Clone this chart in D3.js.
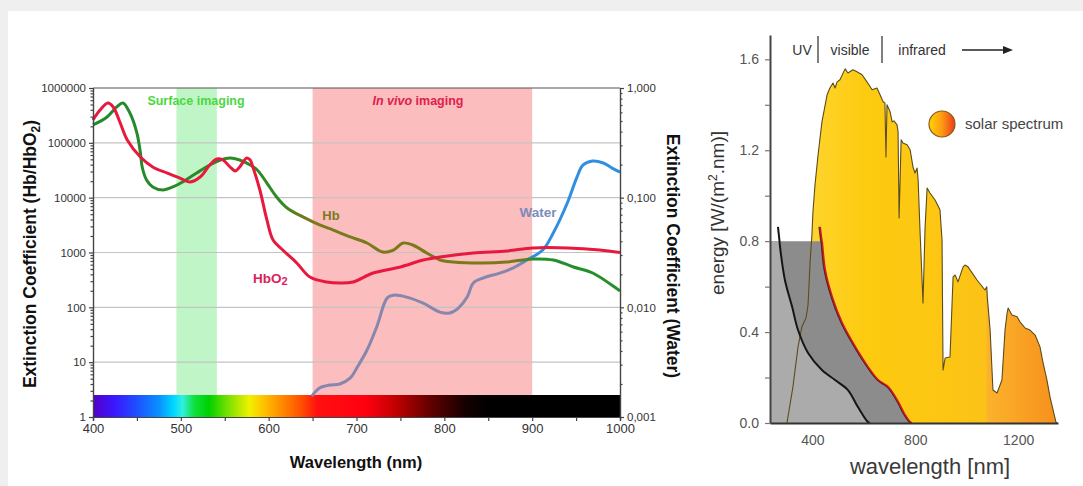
<!DOCTYPE html>
<html>
<head>
<meta charset="utf-8">
<script src="https://cdn.jsdelivr.net/npm/d3@7"></script>
<style>
  body { margin: 0; background: #f0f0f0; }
  svg { display: block; font-family: "Liberation Sans", Arial, sans-serif; }
</style>
</head>
<body>
<div id="container"></div>
<script>
/* CONSTANTS AND GLOBALS */
const width = 1083;
const height = 486;

/* DATA - extinction chart */
const hbWavelength = [400, 416, 427, 434, 442, 450, 454, 456, 461, 468, 480, 491, 502, 518, 533, 545, 556, 567, 579, 587, 598, 609, 621, 639, 658, 673, 693, 712, 730, 742, 753, 764, 780, 795, 810, 844, 871, 901, 924, 947, 969, 997, 1000];
const hbValues = [212000, 296000, 451000, 533000, 350000, 151000, 65300, 36300, 21000, 15700, 13800, 15700, 19300, 28200, 39400, 48600, 53000, 48600, 39400, 32000, 18500, 10300, 6490, 4450, 3180, 2580, 1920, 1490, 1020, 1110, 1490, 1370, 980, 730, 671, 644, 671, 762, 730, 545, 423, 215, 199];

const hbo2Wavelength = [400, 408, 417, 423, 431, 439, 454, 468, 484, 499, 510, 522, 533, 541, 548, 556, 562, 567, 575, 579, 582, 590, 598, 605, 616, 632, 647, 666, 681, 696, 719, 750, 776, 795, 833, 871, 901, 940, 977, 1000];
const hbo2Values = [261000, 397000, 533000, 451000, 230000, 113000, 55200, 36300, 28200, 22800, 19300, 23800, 39400, 50700, 48600, 36300, 30700, 36300, 53000, 48600, 36300, 13800, 3920, 1690, 1110, 644, 357, 290, 278, 290, 423, 545, 730, 828, 980, 1066, 1210, 1210, 1110, 1000];

const waterWavelength = [649, 658, 670, 681, 693, 701, 712, 723, 735, 742, 757, 776, 795, 806, 816, 826, 833, 844, 863, 878, 894, 912, 924, 940, 951, 958, 969, 981, 991, 1000];
const waterValues = [0.00155, 0.00184, 0.00196, 0.00200, 0.00227, 0.00286, 0.00408, 0.00662, 0.0122, 0.0129, 0.0124, 0.0109, 0.00905, 0.00887, 0.00985, 0.0124, 0.0167, 0.0185, 0.0205, 0.0228, 0.0270, 0.0333, 0.0476, 0.0894, 0.154, 0.199, 0.216, 0.207, 0.186, 0.171];

const surfaceBand = [495, 541];
const invivoBand = [650, 900];

const leftTicks = [1, 10, 100, 1000, 10000, 100000, 1000000];
const rightTicks = [0.001, 0.01, 0.1, 1];
const rightTickLabels = ["0,001", "0,010", "0,100", "1,000"];
const wavelengthTicks = [400, 500, 600, 700, 800, 900, 1000];

/* DATA - solar chart */
const solarWavelength = [301, 324, 344, 359, 375, 383, 391, 398, 402, 410, 422, 437, 457, 468, 480, 488, 496, 507, 527, 538, 558, 573, 593, 612, 632, 651, 663, 675, 682, 686, 690, 702, 710, 717, 729, 733, 737, 745, 752, 768, 780, 791, 799, 807, 811, 818, 830, 838, 846, 857, 877, 896, 904, 908, 916, 935, 947, 955, 966, 986, 993, 1005, 1040, 1071, 1078, 1080, 1091, 1102, 1118, 1137, 1149, 1157, 1161, 1176, 1196, 1207, 1227, 1246, 1266, 1285, 1297, 1312, 1324, 1336, 1347, 1351];
const solarEnergy = [0, 0.158, 0.335, 0.423, 0.462, 0.519, 0.709, 0.827, 0.929, 1.048, 1.180, 1.325, 1.444, 1.474, 1.496, 1.474, 1.501, 1.510, 1.558, 1.540, 1.554, 1.545, 1.532, 1.501, 1.466, 1.474, 1.444, 1.413, 1.408, 1.170, 1.400, 1.369, 1.325, 1.329, 1.312, 1.281, 0.902, 1.246, 1.232, 1.224, 1.202, 1.127, 1.100, 1.122, 1.070, 0.858, 0.528, 0.858, 1.034, 1.012, 0.981, 0.938, 0.805, 0.233, 0.286, 0.290, 0.643, 0.651, 0.621, 0.687, 0.695, 0.687, 0.629, 0.585, 0.599, 0.555, 0.409, 0.145, 0.132, 0.189, 0.409, 0.484, 0.506, 0.475, 0.467, 0.445, 0.418, 0.409, 0.387, 0.335, 0.264, 0.189, 0.114, 0.057, 0.004, 0];

const skinWavelength = [266, 272, 274, 293, 321, 344, 383, 437, 488, 538, 577, 616, 624];
const skinEnergy = [0.863, 0.8, 0.775, 0.629, 0.511, 0.409, 0.308, 0.233, 0.189, 0.145, 0.070, 0.004, 0];

const cutoffWavelength = [429, 436, 437, 449, 476, 515, 566, 616, 655, 694, 729, 760, 780, 787];
const cutoffEnergy = [0.863, 0.8, 0.795, 0.673, 0.555, 0.440, 0.335, 0.246, 0.189, 0.158, 0.101, 0.035, 0.004, 0];

const blockLevel = 0.8;
const energyTicks = [0, 0.2, 0.4, 0.6, 0.8, 1.0, 1.2, 1.4, 1.6];
const solarWavelengthTicks = [400, 800, 1200];

const zip = (xs, ys) => xs.map((x, i) => ({ x: x, y: ys[i] }));

const svg = d3.select("#container")
    .append("svg")
    .attr("width", width)
    .attr("height", height);

const defs = svg.append("defs");

// page + card
svg.append("rect").attr("width", width).attr("height", height).attr("fill", "#efefef");
svg.append("rect").attr("x", 8).attr("y", 11).attr("width", width - 8).attr("height", height - 11).attr("fill", "#ffffff");

//EXTINCTION CHART==============================================================================

/* SCALES */
const xL = d3.scaleLinear().domain([400, 1000]).range([93, 620]);
const yL = d3.scaleLog().domain([1, 1000000]).range([417, 88]);
const yW = d3.scaleLog().domain([0.001, 1]).range([417, 88]);
const barTop = 395;

// bands
svg.append("rect")
    .attr("x", xL(surfaceBand[0])).attr("y", yL(1000000))
    .attr("width", xL(surfaceBand[1]) - xL(surfaceBand[0]))
    .attr("height", barTop - yL(1000000))
    .attr("fill", "#c0f5c8");

svg.append("rect")
    .attr("x", xL(invivoBand[0])).attr("y", yL(1000000))
    .attr("width", xL(invivoBand[1]) - xL(invivoBand[0]))
    .attr("height", barTop - yL(1000000))
    .attr("fill", "#fbbdbd");

// gridlines
svg.append("g")
    .selectAll("line")
    .data(leftTicks.slice(1, -1))
    .join("line")
    .attr("x1", xL(400)).attr("x2", xL(1000))
    .attr("y1", d => yL(d)).attr("y2", d => yL(d))
    .attr("stroke", "#c4c4c4").attr("stroke-width", 1.2);

// spectrum colour bar
const spectrum = [
    [400, "#5200c8"], [425, "#3a18ff"], [450, "#1e50ff"], [475, "#0a90ff"], [492, "#00d8ff"],
    [502, "#30f0e0"], [515, "#10e040"], [532, "#00d000"], [552, "#70e000"], [578, "#f0f000"],
    [595, "#ffc000"], [615, "#ff8a00"], [637, "#ff5000"], [655, "#ff1010"], [710, "#ff0010"],
    [745, "#c00000"], [785, "#600000"], [825, "#140000"], [850, "#000000"], [1000, "#000000"]
];
const spec = defs.append("linearGradient").attr("id", "spec")
    .attr("gradientUnits", "userSpaceOnUse")
    .attr("x1", xL(400)).attr("x2", xL(1000)).attr("y1", 0).attr("y2", 0);
spec.selectAll("stop").data(spectrum).join("stop")
    .attr("offset", d => (d[0] - 400) / 600)
    .attr("stop-color", d => d[1]);

svg.append("rect")
    .attr("x", xL(400)).attr("y", barTop)
    .attr("width", xL(1000) - xL(400)).attr("height", yL(1) - barTop)
    .attr("fill", "url(#spec)");

// line gradients
function strokeGradient(id, stops) {
    const g = defs.append("linearGradient").attr("id", id)
        .attr("gradientUnits", "userSpaceOnUse")
        .attr("x1", xL(400)).attr("x2", xL(1000)).attr("y1", 0).attr("y2", 0);
    g.selectAll("stop").data(stops).join("stop")
        .attr("offset", d => (d[0] - 400) / 600)
        .attr("stop-color", d => d[1]);
}
strokeGradient("hbGrad", [[400, "#238a2c"], [612, "#2f8a22"], [645, "#7a7a1c"], [880, "#7a7a1c"], [905, "#23902c"], [1000, "#23902c"]]);
strokeGradient("waterGrad", [[400, "#8686ae"], [884, "#8686ae"], [902, "#2f8fe2"], [1000, "#2f8fe2"]]);

const lineL = d3.line().x(d => xL(d.x)).y(d => yL(d.y)).curve(d3.curveCatmullRom);
const lineW = d3.line().x(d => xL(d.x)).y(d => yW(d.y)).curve(d3.curveCatmullRom);

svg.append("path")
    .attr("d", lineW(zip(waterWavelength, waterValues)))
    .attr("fill", "none").attr("stroke", "url(#waterGrad)").attr("stroke-width", 3);

svg.append("path")
    .attr("d", lineL(zip(hbWavelength, hbValues)))
    .attr("fill", "none").attr("stroke", "url(#hbGrad)").attr("stroke-width", 3);

svg.append("path")
    .attr("d", lineL(zip(hbo2Wavelength, hbo2Values)))
    .attr("fill", "none").attr("stroke", "#e8183e").attr("stroke-width", 3);

// frame top
svg.append("line")
    .attr("x1", xL(400)).attr("x2", xL(1000))
    .attr("y1", yL(1000000)).attr("y2", yL(1000000))
    .attr("stroke", "#555").attr("stroke-width", 1.2);

// AXES
const minorLeft = [];
leftTicks.slice(0, -1).forEach(d => { for (let k = 2; k < 10; k++) minorLeft.push(d * k); });
const minorRight = [];
rightTicks.slice(0, -1).forEach(d => { for (let k = 2; k < 10; k++) minorRight.push(d * k); });
const minorBottom = wavelengthTicks.slice(0, -1).map(d => d + 50);

function styleAxis(g, size, color) {
    g.selectAll("path, line").attr("stroke", "#444").attr("stroke-width", 1.2);
    g.selectAll("text").style("font-size", size + "px").attr("fill", color);
}

svg.append("g")
    .attr("transform", "translate(" + xL(400) + ",0)")
    .call(d3.axisLeft(yL).tickValues(leftTicks).tickFormat(d3.format("d")).tickSize(4).tickPadding(3))
    .call(g => styleAxis(g, 11.5, "#333"));
svg.append("g")
    .attr("transform", "translate(" + xL(400) + ",0)")
    .call(d3.axisLeft(yL).tickValues(minorLeft).tickFormat("").tickSize(2.5))
    .call(g => styleAxis(g, 11, "#333"));

svg.append("g")
    .attr("transform", "translate(" + xL(1000) + ",0)")
    .call(d3.axisRight(yW).tickValues(rightTicks).tickFormat((d, i) => rightTickLabels[i]).tickSize(4).tickPadding(3))
    .call(g => styleAxis(g, 11.5, "#333"));
svg.append("g")
    .attr("transform", "translate(" + xL(1000) + ",0)")
    .call(d3.axisRight(yW).tickValues(minorRight).tickFormat("").tickSize(2.5))
    .call(g => styleAxis(g, 11, "#333"));

svg.append("g")
    .attr("transform", "translate(0," + yL(1) + ")")
    .call(d3.axisBottom(xL).tickValues(wavelengthTicks).tickFormat(d3.format("d")).tickSize(4).tickPadding(3))
    .call(g => styleAxis(g, 13, "#333"));
svg.append("g")
    .attr("transform", "translate(0," + yL(1) + ")")
    .call(d3.axisBottom(xL).tickValues(minorBottom).tickFormat("").tickSize(4))
    .call(g => styleAxis(g, 13, "#333"));

// LABELS
svg.append("text")
    .attr("x", 356).attr("y", 468)
    .attr("text-anchor", "middle")
    .style("font-size", "16.5px").style("font-weight", "bold").attr("fill", "#111")
    .text("Wavelength (nm)");

const leftTitle = svg.append("text")
    .attr("transform", "translate(36,254) rotate(-90)")
    .attr("text-anchor", "middle")
    .style("font-size", "17.5px").style("font-weight", "bold").attr("fill", "#111");
leftTitle.append("tspan").text("Extinction Coefficient (Hb/HbO");
leftTitle.append("tspan").attr("dy", 4).style("font-size", "12px").text("2");
leftTitle.append("tspan").attr("dy", -4).text(")");

svg.append("text")
    .attr("transform", "translate(667,256) rotate(90)")
    .attr("text-anchor", "middle")
    .style("font-size", "17.5px").style("font-weight", "bold").attr("fill", "#111")
    .text("Extinction Coefficient (Water)");

svg.append("text")
    .attr("x", 196).attr("y", 105)
    .attr("text-anchor", "middle")
    .style("font-size", "12.5px").style("font-weight", "600").attr("fill", "#4ad83c")
    .text("Surface imaging");

const invivo = svg.append("text")
    .attr("x", 418).attr("y", 105)
    .attr("text-anchor", "middle")
    .style("font-size", "12.5px").style("font-weight", "600").attr("fill", "#e0204a");
invivo.append("tspan").style("font-style", "italic").text("In vivo");
invivo.append("tspan").text(" imaging");

svg.append("text")
    .attr("x", 331).attr("y", 220)
    .attr("text-anchor", "middle")
    .style("font-size", "13px").style("font-weight", "bold").attr("fill", "#7a7a1c")
    .text("Hb");

const hbo2Label = svg.append("text")
    .attr("x", 253).attr("y", 283)
    .style("font-size", "13.5px").style("font-weight", "bold").attr("fill", "#d8245c");
hbo2Label.append("tspan").text("HbO");
hbo2Label.append("tspan").attr("dy", 2).style("font-size", "11px").text("2");

svg.append("text")
    .attr("x", 538).attr("y", 217)
    .attr("text-anchor", "middle")
    .style("font-size", "13.5px").style("font-weight", "bold").attr("fill", "#7c8cbc")
    .text("Water");

//SOLAR CHART==============================================================================

/* SCALES */
const xS = d3.scaleLinear().domain([235, 1355]).range([770, 1058]);
const yS = d3.scaleLinear().domain([0, 1.707]).range([423, 35]);

// fills
const sunGrad = defs.append("linearGradient").attr("id", "sunGrad")
    .attr("gradientUnits", "userSpaceOnUse")
    .attr("x1", xS(300)).attr("x2", xS(1352)).attr("y1", 0).attr("y2", 0);
sunGrad.selectAll("stop")
    .data([[300, "#ffd83a"], [600, "#fdcb10"], [900, "#fcc612"], [1074, "#fcc218"], [1082, "#fbb22c"], [1352, "#f7901c"]])
    .join("stop")
    .attr("offset", d => (d[0] - 300) / 1052)
    .attr("stop-color", d => d[1]);

const legendGrad = defs.append("linearGradient").attr("id", "legendGrad");
legendGrad.append("stop").attr("offset", 0).attr("stop-color", "#ffd400");
legendGrad.append("stop").attr("offset", 0.5).attr("stop-color", "#fb9a14");
legendGrad.append("stop").attr("offset", 1).attr("stop-color", "#ee3a1a");

const solar = zip(solarWavelength, solarEnergy);
const skin = zip(skinWavelength, skinEnergy);
const cutoff = zip(cutoffWavelength, cutoffEnergy);

svg.append("path")
    .attr("d", d3.area().x(d => xS(d.x)).y0(yS(0)).y1(d => yS(d.y))(solar))
    .attr("fill", "url(#sunGrad)");

// grey blocked regions
const polyLine = d3.line().x(d => xS(d.x)).y(d => yS(d.y));
const darkPoly = [{ x: 235, y: blockLevel }]
    .concat(cutoff.filter(d => d.y <= blockLevel))
    .concat([{ x: 235, y: 0 }]);
svg.append("path").attr("d", polyLine(darkPoly) + "Z").attr("fill", "#8c8c8c");

const lightPoly = [{ x: 235, y: blockLevel }]
    .concat(skin.filter(d => d.y <= blockLevel))
    .concat([{ x: 235, y: 0 }]);
svg.append("path").attr("d", polyLine(lightPoly) + "Z").attr("fill", "#ababab");

svg.append("path")
    .attr("d", polyLine(solar))
    .attr("fill", "none").attr("stroke", "#5c4c1c").attr("stroke-width", 1.1)
    .attr("stroke-linejoin", "round");

const smooth = d3.line().x(d => xS(d.x)).y(d => yS(d.y)).curve(d3.curveCatmullRom);
svg.append("path")
    .attr("d", smooth(cutoff))
    .attr("fill", "none").attr("stroke", "#d4181e").attr("stroke-width", 2.2);
svg.append("path")
    .attr("d", smooth(cutoff))
    .attr("transform", "translate(-1,0)")
    .attr("fill", "none").attr("stroke", "#222").attr("stroke-width", 0.8);
svg.append("path")
    .attr("d", smooth(skin))
    .attr("fill", "none").attr("stroke", "#151515").attr("stroke-width", 2);

// AXES
svg.append("g")
    .attr("transform", "translate(" + xS(235) + ",0)")
    .call(d3.axisLeft(yS).tickValues(energyTicks)
        .tickFormat(d => (Math.round(d * 10) % 4 === 0 ? d3.format(".1f")(d) : ""))
        .tickSize(5).tickSizeOuter(0).tickPadding(6))
    .call(g => {
        g.select(".domain").attr("stroke", "#444").attr("stroke-width", 2);
        g.selectAll(".tick line").attr("stroke", "#777").attr("stroke-width", 1.2);
        g.selectAll("text").style("font-size", "14px").attr("fill", "#555");
    });

svg.append("g")
    .attr("transform", "translate(0," + yS(0) + ")")
    .call(d3.axisBottom(xS).tickValues(solarWavelengthTicks).tickFormat(d3.format("d"))
        .tickSize(0).tickSizeOuter(0).tickPadding(12))
    .call(g => {
        g.select(".domain").attr("stroke", "#333").attr("stroke-width", 2.2);
        g.selectAll("text").style("font-size", "14px").attr("fill", "#555");
    });

// LABELS
svg.append("text")
    .attr("transform", "translate(724,213) rotate(-90)")
    .attr("text-anchor", "middle")
    .style("font-size", "19px").attr("fill", "#333")
    .html("energy [W/(m<tspan dy='-7' font-size='12'>2</tspan><tspan dy='7'>.nm)]</tspan>");

svg.append("text")
    .attr("x", 930).attr("y", 474)
    .attr("text-anchor", "middle")
    .style("font-size", "22px").attr("fill", "#3a3a3a")
    .text("wavelength [nm]");

const regionTexts = [["UV", 802], ["visible", 850], ["infrared", 922]];
svg.append("g").selectAll("text").data(regionTexts).join("text")
    .attr("x", d => d[1]).attr("y", 55)
    .attr("text-anchor", "middle")
    .style("font-size", "14px").attr("fill", "#333")
    .text(d => d[0]);

svg.append("g").selectAll("line").data([818, 882]).join("line")
    .attr("x1", d => d).attr("x2", d => d).attr("y1", 36).attr("y2", 63)
    .attr("stroke", "#555").attr("stroke-width", 1.5);

svg.append("line")
    .attr("x1", 962).attr("x2", 1005).attr("y1", 50).attr("y2", 50)
    .attr("stroke", "#222").attr("stroke-width", 1.3);
svg.append("path")
    .attr("d", "M1003,46 L1013,50 L1003,54 Z")
    .attr("fill", "#222");

// legend
svg.append("circle")
    .attr("cx", 942).attr("cy", 124).attr("r", 13)
    .attr("fill", "url(#legendGrad)")
    .attr("stroke", "#8a5a1a").attr("stroke-width", 1.2);
svg.append("text")
    .attr("x", 965).attr("y", 129)
    .style("font-size", "15px").attr("fill", "#444")
    .text("solar spectrum");
</script>
</body>
</html>
